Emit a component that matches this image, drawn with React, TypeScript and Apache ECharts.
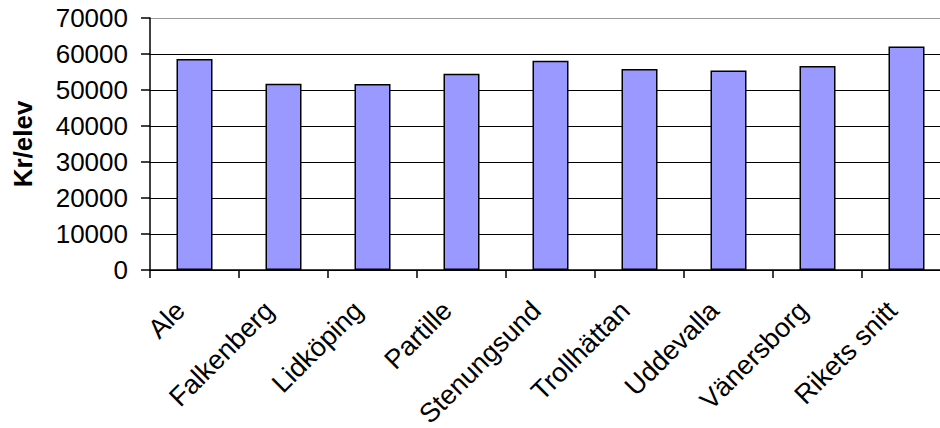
import React, { useEffect, useRef } from "react";
import * as echarts from "echarts";

const categories = ["Ale", "Falkenberg", "Lidköping", "Partille", "Stenungsund", "Trollhättan", "Uddevalla", "Vänersborg", "Rikets snitt"];
const values = [58600, 51750, 51700, 54500, 58100, 55800, 55400, 56700, 62100];
const yTicks = { min: 0, max: 70000, interval: 10000 };
const yTitle = "Kr/elev";

const FONT = "'Liberation Sans', Arial, sans-serif";

export default function App() {
  const ref = useRef<HTMLDivElement>(null);
  useEffect(() => {
    if (!ref.current) return;
    const chart = echarts.init(ref.current, undefined, { renderer: "svg" });
    chart.setOption({
      animation: false,
      backgroundColor: "#ffffff",
      textStyle: { fontFamily: FONT },
      grid: {
        left: 150,
        right: -11,
        top: 18,
        bottom: 158,
        containLabel: false,
        outerBoundsMode: "none",
      },
      xAxis: {
        type: "category",
        data: categories,
        boundaryGap: true,
        axisLine: { show: true, lineStyle: { color: "#000", width: 1.5 } },
        axisTick: { show: true, length: 8, lineStyle: { color: "#000", width: 1.5 } },
        axisLabel: {
          rotate: 45,
          margin: 22,
          padding: [0, 20, 0, 0],
          fontSize: 27,
          color: "#000",
          fontFamily: FONT,
          interval: 0,
        },
      },
      yAxis: {
        type: "value",
        min: yTicks.min,
        max: yTicks.max,
        interval: yTicks.interval,
        name: yTitle,
        nameLocation: "middle",
        nameRotate: 90,
        nameGap: 114,
        nameTextStyle: { fontSize: 26, fontWeight: "bold", color: "#000", fontFamily: FONT },
        axisLine: { show: true, lineStyle: { color: "#000", width: 1.5 } },
        axisTick: { show: true, length: 9, lineStyle: { color: "#000", width: 1.5 } },
        axisLabel: {
          fontSize: 26,
          color: "#000",
          margin: 22,
          fontFamily: FONT,
          formatter: (v: number) => String(v),
        },
        splitLine: {
          show: true,
          lineStyle: {
            color: ["#000", "#000", "#000", "#000", "#000", "#000", "#000", "#999"],
            width: 1,
          },
        },
      },
      series: [
        {
          type: "bar",
          data: values,
          barWidth: 36,
          itemStyle: { color: "#9999FF", borderColor: "#000", borderWidth: 1.5 },
        },
      ],
    });
    return () => chart.dispose();
  }, []);
  return (
    <div
      ref={ref}
      style={{ position: "fixed", left: 0, top: 0, width: 940, height: 428, background: "#fff" }}
    />
  );
}
